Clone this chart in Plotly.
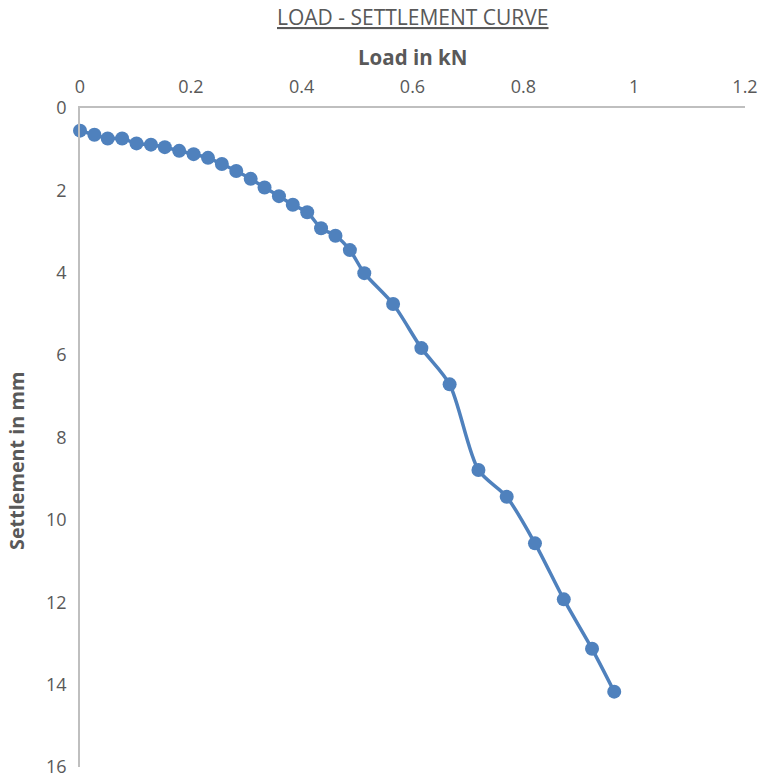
import plotly.graph_objects as go

load_kn = [0.000, 0.026, 0.050, 0.076, 0.102, 0.128, 0.153, 0.179, 0.205, 0.231,
           0.256, 0.282, 0.308, 0.333, 0.359, 0.384, 0.410, 0.435, 0.461, 0.487,
           0.513, 0.565, 0.616, 0.667, 0.719, 0.770, 0.821, 0.873, 0.924, 0.964]
settlement_mm = [0.55, 0.65, 0.74, 0.74, 0.86, 0.89, 0.95, 1.04, 1.12, 1.21,
                 1.36, 1.53, 1.72, 1.93, 2.14, 2.35, 2.53, 2.92, 3.10, 3.45,
                 4.01, 4.76, 5.83, 6.71, 8.79, 9.44, 10.57, 11.93, 13.13, 14.17]

x_ticks = [0, 0.2, 0.4, 0.6, 0.8, 1, 1.2]
y_ticks = [0, 2, 4, 6, 8, 10, 12, 14, 16]

W, H = 763, 783
L, R, T, B = 80, 18, 108, 16
grey = "#595959"
axis_grey = "#bfbfbf"
blue = "#4f81bd"
font_family = "Open Sans"

fig = go.Figure()
fig.add_trace(go.Scatter(
    x=load_kn, y=settlement_mm, mode="lines+markers",
    line=dict(color=blue, width=3.5, shape="spline", smoothing=0.8),
    marker=dict(color=blue, size=14),
    showlegend=False, cliponaxis=False,
))

fig.update_layout(
    width=W, height=H,
    margin=dict(l=L, r=R, t=T, b=B, pad=0, autoexpand=False),
    plot_bgcolor="white", paper_bgcolor="white",
    font=dict(family=font_family, color=grey, size=18),
    xaxis=dict(
        side="top", range=[0, 1.2], tickvals=x_ticks,
        ticktext=[f"{v:g}" for v in x_ticks], automargin=False,
        showgrid=False, zeroline=False, showline=True,
        linecolor=axis_grey, linewidth=1.5, ticks="",
        tickfont=dict(size=18, color=grey), ticklabelstandoff=6,
    ),
    yaxis=dict(
        range=[16, 0], tickvals=y_ticks, automargin=False,
        showgrid=False, zeroline=False, showline=True,
        linecolor=axis_grey, linewidth=1.5, ticks="",
        tickfont=dict(size=18, color=grey), ticklabelstandoff=8,
    ),
    annotations=[
        dict(text="<u>LOAD - SETTLEMENT CURVE</u>", xref="paper", yref="paper",
             x=0.5, y=1 + (T - 17) / (H - T - B), xanchor="center", yanchor="middle",
             showarrow=False, font=dict(size=21, color=grey)),
        dict(text="<b>Load in kN</b>", xref="paper", yref="paper",
             x=0.5, y=1 + (T - 57) / (H - T - B), xanchor="center", yanchor="middle",
             showarrow=False, font=dict(size=20.5, color=grey)),
        dict(text="<b>Settlement in mm</b>", xref="paper", yref="paper",
             x=-(L - 16) / (W - L - R), y=1 - (461 - T) / (H - T - B),
             xanchor="center", yanchor="middle", textangle=-90,
             showarrow=False, font=dict(size=19.8, color=grey)),
    ],
)

fig.write_html("out.html")
